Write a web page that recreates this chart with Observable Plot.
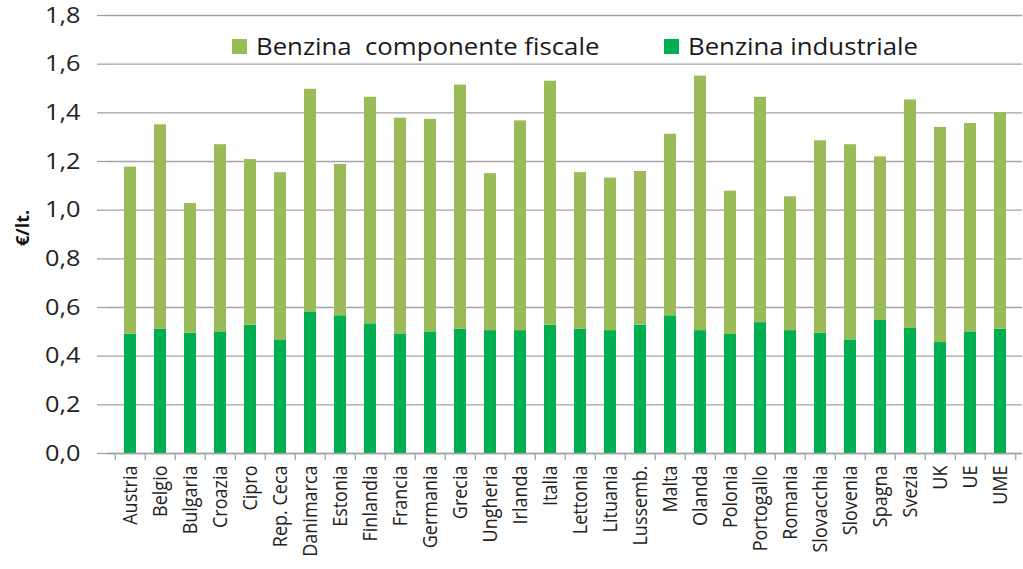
<!DOCTYPE html>
<html>
<head>
<meta charset="utf-8">
<script src="https://cdn.jsdelivr.net/npm/d3@7"></script>
<script src="https://cdn.jsdelivr.net/npm/@observablehq/plot@0.6"></script>
<style>
  html, body { margin: 0; padding: 0; background: #fff; }
  #wrap { position: relative; width: 1023px; height: 569px; font-family: "Open Sans", sans-serif; color: #222; }
  #chart { position: absolute; left: 0; top: 0; }
  .legend { position: absolute; top: 30px; display: flex; align-items: center; font-size: 23px; white-space: pre; color: #1a1a1a; }
  .legend .t { display: inline-block; transform: scaleX(1.12); transform-origin: left center; }
  .sw { width: 15px; height: 15px; margin-right: 9px; display: inline-block; }
  #ytitle { position: absolute; left: 22px; top: 228px; transform: translate(-50%, -50%) rotate(-90deg); font-weight: bold; font-size: 18px; white-space: nowrap; color: #111; }
</style>
</head>
<body>
<div id="wrap">
  <div id="chart"></div>
  <div class="legend" style="left:232px"><span class="sw" style="background:#9bbb59"></span><span class="t">Benzina  componente fiscale</span></div>
  <div class="legend" style="left:664px"><span class="sw" style="background:#00b050"></span><span class="t">Benzina industriale</span></div>
  <div id="ytitle">€/lt.</div>
</div>
<script>
const countries = ["Austria","Belgio","Bulgaria","Croazia","Cipro","Rep. Ceca","Danimarca","Estonia","Finlandia","Francia","Germania","Grecia","Ungheria","Irlanda","Italia","Lettonia","Lituania","Lussemb.","Malta","Olanda","Polonia","Portogallo","Romania","Slovacchia","Slovenia","Spagna","Svezia","UK","UE","UME"];
// total price (industrial + fiscal), €/lt.
const totalPrice = [1.177,1.351,1.027,1.269,1.208,1.154,1.497,1.188,1.464,1.378,1.373,1.514,1.150,1.367,1.530,1.154,1.132,1.159,1.312,1.551,1.078,1.464,1.055,1.285,1.269,1.219,1.453,1.340,1.356,1.401];
// industrial component, €/lt.
const industrial = [0.490,0.511,0.494,0.500,0.527,0.467,0.582,0.566,0.533,0.489,0.500,0.511,0.505,0.505,0.527,0.511,0.505,0.527,0.566,0.505,0.489,0.538,0.505,0.494,0.467,0.549,0.516,0.456,0.500,0.511];
const seriesNames = ["Benzina  componente fiscale", "Benzina industriale"];
const seriesColors = ["#9bbb59", "#00b050"];
const yTicks = [0,0.2,0.4,0.6,0.8,1.0,1.2,1.4,1.6,1.8];

const rows = [];
countries.forEach((c, i) => {
  rows.push({country: c, series: seriesNames[1], y1: 0, y2: industrial[i]});
  rows.push({country: c, series: seriesNames[0], y1: industrial[i], y2: totalPrice[i]});
});

const fmt = d => d3.format(".1f")(d).replace(".", ",");
const grid = "#a3a3a3";
const W = 1023, mL = 107, mR = 1;
const half = (W - mL - mR) / countries.length / 2;

const chart = Plot.plot({
  width: W,
  height: 569,
  marginLeft: mL,
  marginRight: mR,
  marginTop: 15,
  marginBottom: 116,
  style: {fontFamily: "'Open Sans', sans-serif", color: "#222", background: "transparent"},
  x: {domain: countries, paddingInner: 0.6, paddingOuter: 0.3},
  y: {domain: [0, 1.8]},
  color: {domain: seriesNames, range: seriesColors},
  marks: [
    Plot.gridY(yTicks, {stroke: grid, strokeOpacity: 1, strokeWidth: 1.3}),
    Plot.axisY(yTicks, {tickSize: 10, tickPadding: 17, tickFormat: fmt, stroke: grid, strokeWidth: 1.3, fontSize: 22, label: null, fill: "#222"}),
    Plot.barY(rows, {x: "country", y1: "y1", y2: "y2", fill: "series"}),
    Plot.ruleX([0], {frameAnchor: "left", stroke: grid, strokeWidth: 1.3}),
    Plot.ruleY([0], {stroke: grid, strokeWidth: 1.3}),
    Plot.axisX({tickSize: 7, tickFormat: () => "", dx: -half, stroke: grid, strokeWidth: 1.3, label: null}),
    Plot.axisX([countries[countries.length - 1]], {tickSize: 7, tickFormat: () => "", dx: half, stroke: grid, strokeWidth: 1.3, label: null}),
    Plot.axisX({tickSize: 0, tickRotate: -90, tickPadding: 12, fontSize: 18, label: null, fill: "#222"})
  ]
});
document.getElementById("chart").appendChild(chart);

// mimic the horizontally stretched text of the original chart
function stretch(t, sx, sy) {
  const tr = t.getAttribute("transform");
  if (tr) {
    t.setAttribute("transform", tr + ` scale(${sx},${sy})`);
  } else {
    const x = +(t.getAttribute("x") || 0), y = +(t.getAttribute("y") || 0);
    t.setAttribute("x", 0); t.setAttribute("y", 0);
    t.setAttribute("transform", `translate(${x},${y}) scale(${sx},${sy})`);
  }
}
const yLabelSet = new Set(yTicks.map(fmt));
const xLabelSet = new Set(countries);
chart.querySelectorAll("text").forEach(t => {
  const s = t.textContent;
  if (xLabelSet.has(s)) stretch(t, 1, 1.13);
  else if (yLabelSet.has(s)) stretch(t, 1.15, 1);
});
</script>
</body>
</html>
